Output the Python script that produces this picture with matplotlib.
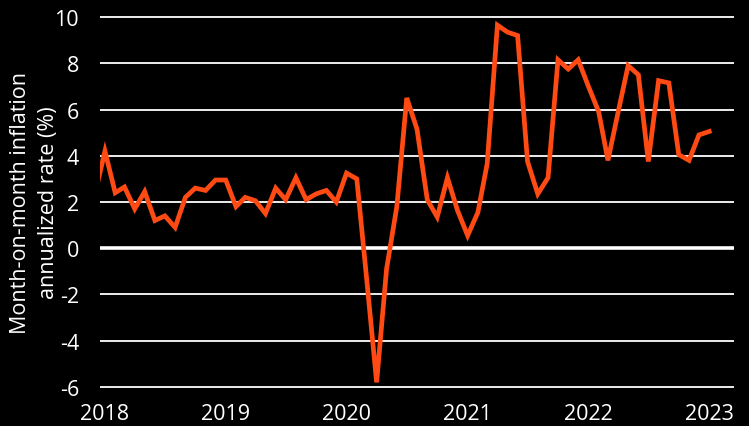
import numpy as np
import pandas as pd
import matplotlib
matplotlib.use("Agg")
import matplotlib.pyplot as plt

# monthly values, Dec 2017 .. Jan 2023
start_month = "2017-12-01"
inflation = [
    2.3,
    4.2, 2.4, 2.65, 1.7, 2.45, 1.2, 1.4, 0.9, 2.2, 2.6, 2.5, 2.95,      # 2018
    2.95, 1.8, 2.2, 2.05, 1.5, 2.6, 2.1, 3.05, 2.1, 2.35, 2.5, 2.0,     # 2019
    3.25, 3.0, -1.2, -5.8, -0.9, 1.8, 6.5, 5.15, 2.1, 1.35, 3.05, 1.65, # 2020
    0.55, 1.55, 3.65, 9.65, 9.35, 9.2, 3.75, 2.35, 3.05, 8.15, 7.75, 8.15,  # 2021
    7.0, 5.9, 3.8, 5.9, 7.9, 7.5, 3.75, 7.25, 7.15, 4.05, 3.8, 4.9,     # 2022
    5.05,                                                               # 2023
]
year_ticks = ["2018", "2019", "2020", "2021", "2022", "2023"]
y_ticks = [-6, -4, -2, 0, 2, 4, 6, 8, 10]

months = pd.date_range(start_month, periods=len(inflation), freq="MS")

plt.rcParams["font.family"] = ["Open Sans", "DejaVu Sans"]

fig = plt.figure(figsize=(7.49, 4.27), dpi=100, facecolor="black")
ax = fig.add_axes([0.1335, 0.0806, 0.8465, 0.888])
ax.set_facecolor("black")

for y in y_ticks:
    ax.axhline(y, color="white", lw=2.6 if y == 0 else 1.3, zorder=1)

ax.plot(months, inflation, color="#ff4a14", lw=3.4, solid_joinstyle="miter", zorder=3)

ax.set_xlim(pd.Timestamp("2017-12-17"), pd.Timestamp("2023-03-17"))
ax.set_ylim(-6.2, 10.2)
ax.set_yticks(y_ticks)
ax.set_yticklabels([str(v) for v in y_ticks])
ax.set_xticks([pd.Timestamp(f"{y}-01-01") for y in year_ticks])
ax.set_xticklabels(year_ticks)

ax.tick_params(colors="white", labelsize=15.5, length=0)
ax.tick_params(axis="y", pad=15)
ax.tick_params(axis="x", pad=8)
for s in ax.spines.values():
    s.set_visible(False)

ax.set_ylabel("Month-on-month inflation\nannualized rate (%)", color="white",
              fontsize=15.5, linespacing=1.45)
ax.yaxis.set_label_coords(-0.064, 0.5)

fig.savefig("out.png", dpi=100, facecolor="black")
